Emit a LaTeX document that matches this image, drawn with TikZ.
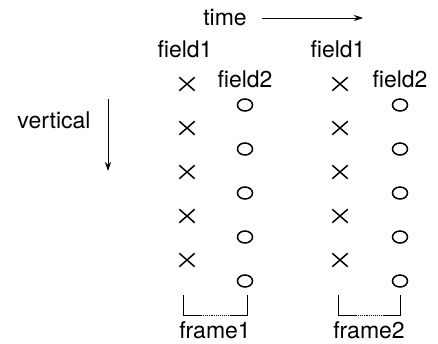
\documentclass[tikz,border=0pt]{standalone}
\usepackage{fontspec}
\setmainfont{TeX Gyre Heros}
\usetikzlibrary{shapes.misc, shapes.geometric, arrows.meta, positioning, calc}

\begin{document}
\begin{tikzpicture}[x=1pt, y=-1pt,
    lbl/.style={font=\fontsize{23}{26}\selectfont, inner sep=0pt, anchor=base},
    xmark/.style={cross out, draw, line width=1.5pt, minimum width=14pt, minimum height=12pt, inner sep=0pt},
    omark/.style={ellipse, draw, line width=1.5pt, minimum width=15pt, minimum height=12pt, inner sep=0pt},
    arr/.style={-{Stealth[length=9pt, width=6pt]}, line width=0.9pt}]
    \useasboundingbox (0,0) rectangle (438,343);

    % --- time axis ---
    \node[lbl] (time) at (225,25) {time};
    \coordinate (timestart) at (262,18);
    \coordinate (timeend) at (363,18);
    \draw[arr] (timestart) -- (timeend);

    % --- vertical axis ---
    \node[lbl] (vert) at (54,128) {vertical};
    \coordinate (vertstart) at (108,99);
    \coordinate (vertend) at (108,171);
    \draw[arr] (vertstart) -- (vertend);

    % --- two frames, each with two fields ---
    \foreach \f/\xx/\xo/\bl/\br in {1/187/245/183/247, 2/340/400/338/400} {
        \node[lbl] (field1f\f) at (\xx-2,57) {field1};
        \node[lbl] (field2f\f) at (\xo,87) {field2};
        \foreach \i in {1,...,5} {
            \node[xmark] (f\f x\i) at (\xx,{84+44*(\i-1)}) {};
            \node[omark] (f\f o\i) at (\xo,{105+44*(\i-1)}) {};
        }
        % bracket under the frame
        \draw[line width=0.9pt] (\bl,295) -- (\bl,315) -- (\bl+18,315);
        \draw[line width=0.9pt, densely dotted] (\bl+18,315) -- (\br-16,315);
        \draw[line width=0.9pt] (\br-16,315) -- (\br,315) -- (\br,295);
        \node[lbl] (frame\f) at ({(\bl+\br)/2},338) {frame\f};
    }
\end{tikzpicture}
\end{document}
